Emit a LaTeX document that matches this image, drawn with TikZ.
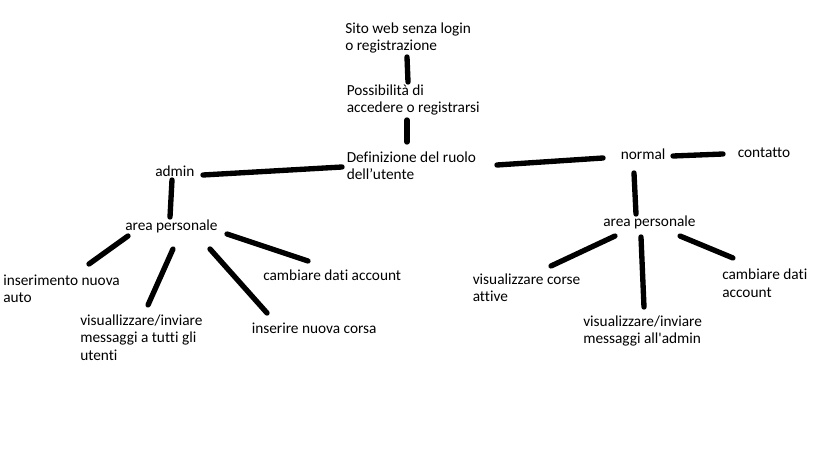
\documentclass[tikz,border=0pt]{standalone}
\usepackage{fontspec}
\setmainfont{Carlito}[Ligatures=CommonOff]
\newcommand\straightapos{\XeTeXglyph\XeTeXcharglyph"0027\relax}
\begin{document}
\begin{tikzpicture}[x=0.75pt,y=-0.75pt,
		lbl/.style={anchor=base west,inner sep=0pt,align=left,
			font=\fontsize{11.5pt}{13.1pt}\selectfont},
		pen/.style={line width=4pt,line cap=round,black}]
	\useasboundingbox (0,0) rectangle (819,460);
	
	% top chain (base = last line)
	\node[lbl] (Sito)   at (345,50.5)    {Sito web senza login\\o registrazione};
	\node[lbl] (Access) at (346.5,112.5) {Possibilità di\\accedere o registrarsi};
	\node[lbl] (Ruolo)  at (346.5,179.5) {Definizione del ruolo\\dell’utente};
	
	% admin side
	\node[lbl] (Admin)  at (155,176)   {admin};
	\node[lbl] (AreaA)  at (125,231)   {area personale};
	\node[lbl] (Auto)   at (3,302.5)   {inserimento nuova\\auto};
	\node[lbl] (MsgA)   at (80,360)    {visuallizzare/inviare\\messaggi a tutti gli\\utenti};
	\node[lbl] (Corsa)  at (251.5,333) {inserire nuova corsa};
	\node[lbl] (DatiA)  at (263,281)   {cambiare dati account};
	
	% normal side
	\node[lbl] (Normal) at (620.5,160) {normal};
	\node[lbl] (Contatto) at (737.5,158) {contatto};
	\node[lbl] (AreaN)  at (603,227)   {area personale};
	\node[lbl] (Attive) at (472.5,301.5) {visualizzare corse\\attive};
	\node[lbl] (MsgN)   at (583,343.5) {visualizzare/inviare\\messaggi all\straightapos admin};
	\node[lbl] (DatiN)  at (722,297)   {cambiare dati\\account};
	
	\draw[pen] ([shift={(62,6.5)}]Sito.base west) -- ([shift={(61.5,-30.5)}]Access.base west);
	\draw[pen] ([shift={(60.5,7.5)}]Access.base west) -- ([shift={(60.5,-37.5)}]Ruolo.base west);
	
	\draw[pen] ([shift={(48,-1)}]Admin.base west) -- ([shift={(-4.5,-12.5)}]Ruolo.base west);
	\draw[pen] ([shift={(150.5,-14.5)}]Ruolo.base west) -- ([shift={(-17.5,-2)}]Normal.base west);
	\draw[pen] ([shift={(52.5,-4)}]Normal.base west) -- ([shift={(-14.5,-4)}]Contatto.base west);
	
	\draw[pen] ([shift={(17,4)}]Admin.base west) -- ([shift={(45,-14)}]AreaA.base west);
	\draw[pen] ([shift={(3,5)}]AreaA.base west) -- ([shift={(86,-38.5)}]Auto.base west);
	\draw[pen] ([shift={(48,18)}]AreaA.base west) -- ([shift={(68,-55)}]MsgA.base west);
	\draw[pen] ([shift={(85,18)}]AreaA.base west) -- ([shift={(15.5,-20)}]Corsa.base west);
	\draw[pen] ([shift={(102,3)}]AreaA.base west) -- ([shift={(45,-20)}]DatiA.base west);
	
	\draw[pen] ([shift={(13.5,13)}]Normal.base west) -- ([shift={(33,-13)}]AreaN.base west);
	\draw[pen] ([shift={(12,9)}]AreaN.base west) -- ([shift={(78.5,-35.5)}]Attive.base west);
	\draw[pen] ([shift={(38,10)}]AreaN.base west) -- ([shift={(61,-36.5)}]MsgN.base west);
	\draw[pen] ([shift={(77,9)}]AreaN.base west) -- ([shift={(11,-39)}]DatiN.base west);
\end{tikzpicture}
\end{document}
